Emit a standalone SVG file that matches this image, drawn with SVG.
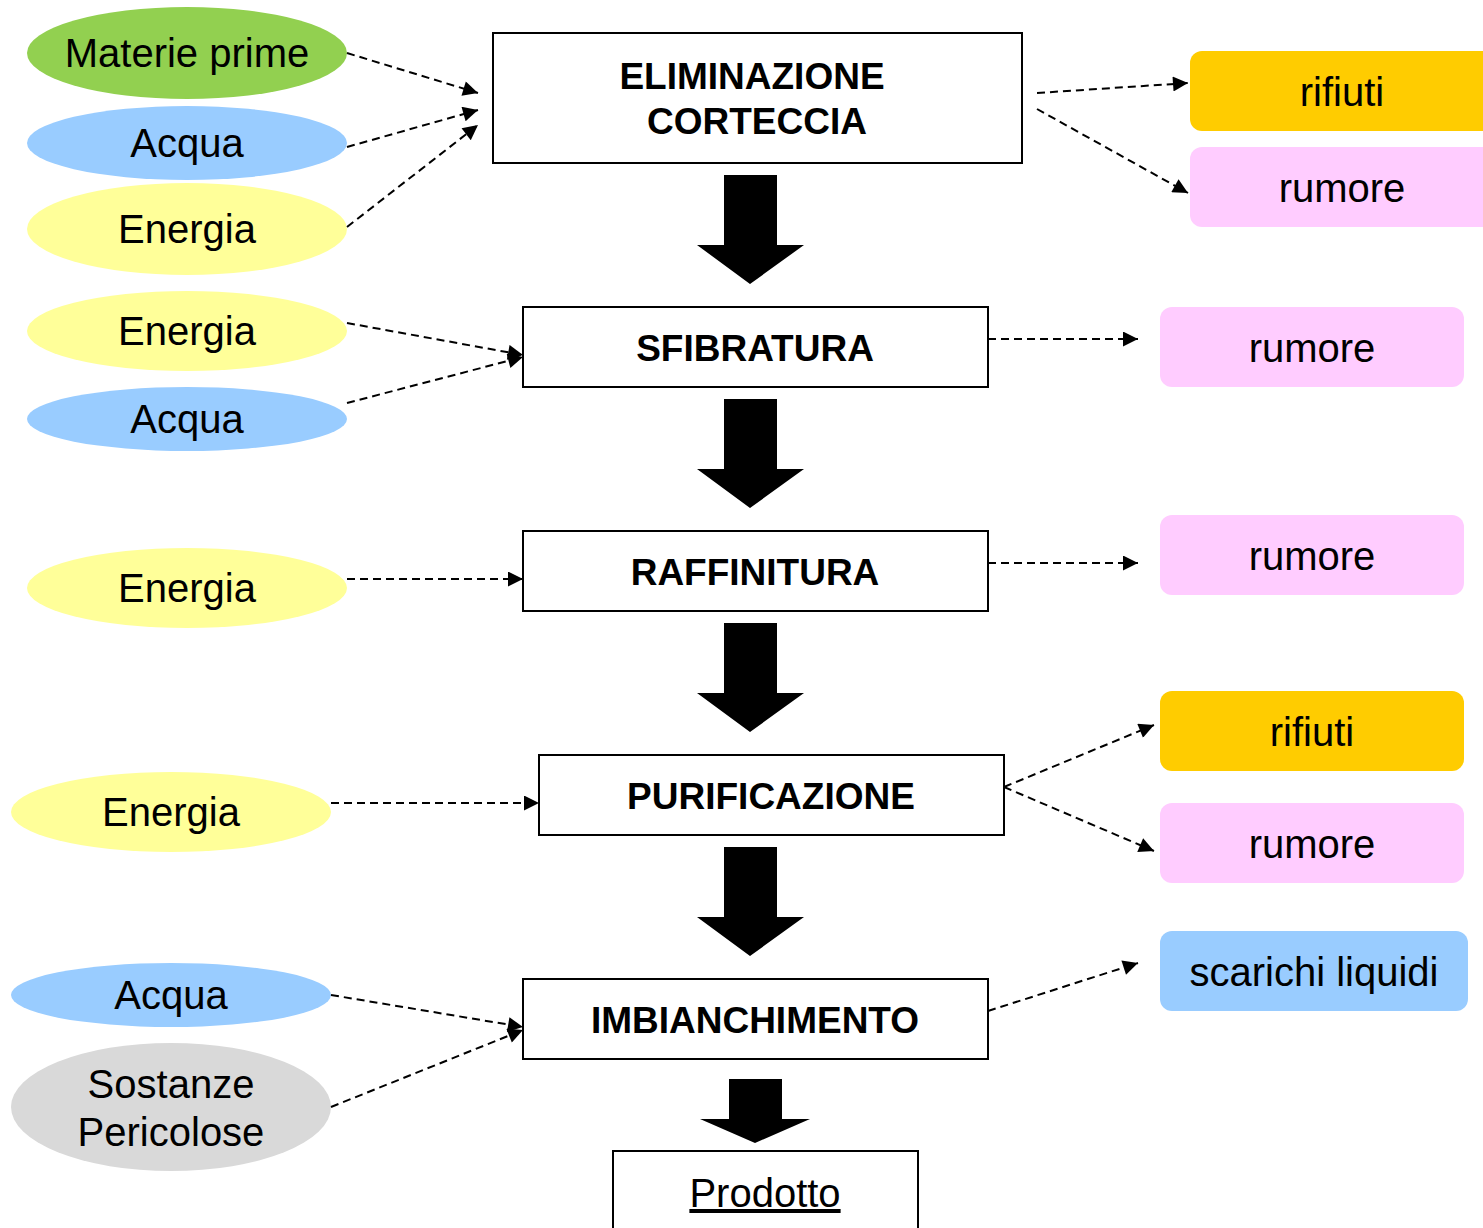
<svg xmlns="http://www.w3.org/2000/svg" width="1483" height="1228" viewBox="0 0 1483 1228">
<style>
.t{font-family:"Liberation Sans",Arial,sans-serif;font-size:40px;fill:#000;text-anchor:middle}
.b{font-family:"Liberation Sans",Arial,sans-serif;font-size:37px;font-weight:bold;fill:#000;text-anchor:middle}
.box{fill:#fff;stroke:#000;stroke-width:2}
.c{fill:none;stroke:#000;stroke-width:2;stroke-dasharray:8 5;marker-end:url(#ah)}
.big{fill:#000}
</style>
<defs>
<marker id="ah" viewBox="0 0 10 10" refX="10" refY="5" markerWidth="10" markerHeight="7.5" markerUnits="strokeWidth" orient="auto">
<path d="M0,0 L10,5 L0,10 Z" fill="#000"/>
</marker>
</defs>
<rect width="1483" height="1228" fill="#fff"/>
<g id="in-materie"><ellipse cx="187" cy="53" rx="160" ry="46" fill="#92D050"/><text class="t" x="187" y="67">Materie prime</text></g>
<g id="in-acqua1"><ellipse cx="187" cy="143" rx="160" ry="37" fill="#99CCFF"/><text class="t" x="187" y="157">Acqua</text></g>
<g id="in-energia1"><ellipse cx="187" cy="229" rx="160" ry="46" fill="#FFFF99"/><text class="t" x="187" y="243">Energia</text></g>
<g id="in-energia2"><ellipse cx="187" cy="331" rx="160" ry="40" fill="#FFFF99"/><text class="t" x="187" y="345">Energia</text></g>
<g id="in-acqua2"><ellipse cx="187" cy="419" rx="160" ry="32" fill="#99CCFF"/><text class="t" x="187" y="433">Acqua</text></g>
<g id="in-energia3"><ellipse cx="187" cy="588" rx="160" ry="40" fill="#FFFF99"/><text class="t" x="187" y="602">Energia</text></g>
<g id="in-energia4"><ellipse cx="171" cy="812" rx="160" ry="40" fill="#FFFF99"/><text class="t" x="171" y="826">Energia</text></g>
<g id="in-acqua3"><ellipse cx="171" cy="995" rx="160" ry="32" fill="#99CCFF"/><text class="t" x="171" y="1009">Acqua</text></g>
<g id="in-sostanze"><ellipse cx="171" cy="1107" rx="160" ry="64" fill="#D9D9D9"/><text class="t" x="171" y="1098">Sostanze</text><text class="t" x="171" y="1146">Pericolose</text></g>

<g id="p-corteccia"><rect class="box" x="493" y="33" width="529" height="130"/><text class="b" x="752" y="89">ELIMINAZIONE</text><text class="b" x="757" y="134">CORTECCIA</text></g>
<g id="p-sfibratura"><rect class="box" x="523" y="307" width="465" height="80"/><text class="b" x="755" y="361">SFIBRATURA</text></g>
<g id="p-raffinitura"><rect class="box" x="523" y="531" width="465" height="80"/><text class="b" x="755" y="585">RAFFINITURA</text></g>
<g id="p-purificazione"><rect class="box" x="539" y="755" width="465" height="80"/><text class="b" x="771" y="809">PURIFICAZIONE</text></g>
<g id="p-imbianchimento"><rect class="box" x="523" y="979" width="465" height="80"/><text class="b" x="755" y="1033">IMBIANCHIMENTO</text></g>
<g id="p-prodotto"><rect class="box" x="613" y="1151" width="305" height="90"/><text class="t" x="765" y="1207" text-decoration="underline">Prodotto</text></g>

<g id="out-rifiuti1"><rect x="1190" y="51" width="310" height="80" rx="12" fill="#FFCC00"/><text class="t" x="1342" y="106">rifiuti</text></g>
<g id="out-rumore1"><rect x="1190" y="147" width="310" height="80" rx="12" fill="#FFCCFF"/><text class="t" x="1342" y="202">rumore</text></g>
<g id="out-rumore2"><rect x="1160" y="307" width="304" height="80" rx="12" fill="#FFCCFF"/><text class="t" x="1312" y="362">rumore</text></g>
<g id="out-rumore3"><rect x="1160" y="515" width="304" height="80" rx="12" fill="#FFCCFF"/><text class="t" x="1312" y="570">rumore</text></g>
<g id="out-rifiuti2"><rect x="1160" y="691" width="304" height="80" rx="12" fill="#FFCC00"/><text class="t" x="1312" y="746">rifiuti</text></g>
<g id="out-rumore4"><rect x="1160" y="803" width="304" height="80" rx="12" fill="#FFCCFF"/><text class="t" x="1312" y="858">rumore</text></g>
<g id="out-scarichi"><rect x="1160" y="931" width="308" height="80" rx="12" fill="#99CCFF"/><text class="t" x="1314" y="986">scarichi liquidi</text></g>

<g id="connectors">
<path class="c" d="M347,53 L478,93"/>
<path class="c" d="M347,147 L478,110"/>
<path class="c" d="M347,227 L478,125"/>
<path class="c" d="M1037,93 L1188,83"/>
<path class="c" d="M1037,109 L1188,193"/>
<path class="c" d="M347,323 L523,355"/>
<path class="c" d="M347,403 L523,357"/>
<path class="c" d="M988,339 L1138,339"/>
<path class="c" d="M347,579 L523,579"/>
<path class="c" d="M988,563 L1138,563"/>
<path class="c" d="M331,803 L539,803"/>
<path class="c" d="M1004,787 L1154,725"/>
<path class="c" d="M1004,787 L1154,851"/>
<path class="c" d="M331,995 L523,1027"/>
<path class="c" d="M331,1107 L523,1030"/>
<path class="c" d="M988,1011 L1138,963"/>
<path class="big" d="M724,175 H777 V245 H804 L750,284 L697,245 H724 Z"/>
<path class="big" d="M724,399 H777 V469 H804 L750,508 L697,469 H724 Z"/>
<path class="big" d="M724,623 H777 V693 H804 L750,732 L697,693 H724 Z"/>
<path class="big" d="M724,847 H777 V917 H804 L750,956 L697,917 H724 Z"/>
<path class="big" d="M729,1079 H782 V1119 H810 L755,1143 L700,1119 H729 Z"/>
</g>
</svg>
